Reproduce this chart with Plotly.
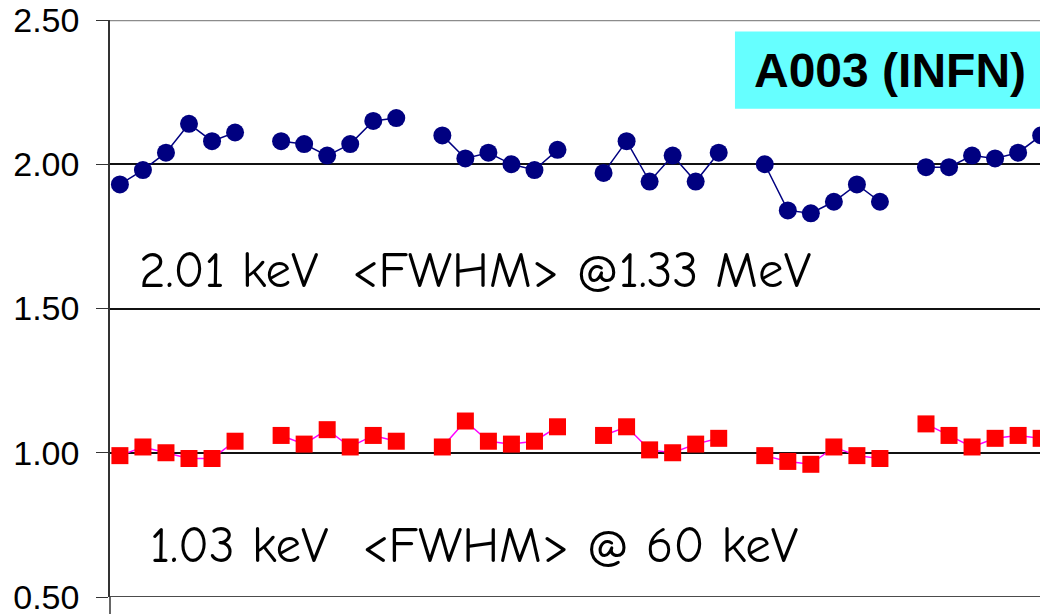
import plotly.graph_objects as go

# Six groups of six measurements, a one-slot gap between groups
per_group = 6

fwhm_133MeV = [
    [1.93, 1.98, 2.04, 2.14, 2.08, 2.11],
    [2.08, 2.07, 2.03, 2.07, 2.15, 2.16],
    [2.10, 2.02, 2.04, 2.00, 1.98, 2.05],
    [1.97, 2.08, 1.94, 2.03, 1.94, 2.04],
    [2.00, 1.84, 1.83, 1.87, 1.93, 1.87],
    [1.99, 1.99, 2.03, 2.02, 2.04, 2.10],
]
fwhm_60keV = [
    [0.99, 1.02, 1.00, 0.98, 0.98, 1.04],
    [1.06, 1.03, 1.08, 1.02, 1.06, 1.04],
    [1.02, 1.11, 1.04, 1.03, 1.04, 1.09],
    [1.06, 1.09, 1.01, 1.00, 1.03, 1.05],
    [0.99, 0.97, 0.96, 1.02, 0.99, 0.98],
    [1.10, 1.06, 1.02, 1.05, 1.06, 1.05],
]
y_ticks = [0.5, 1.0, 1.5, 2.0, 2.5]
y_tick_labels = ["0.50", "1.00", "1.50", "2.00", "2.50"]


def flatten(groups_vals):
    xs, ys = [], []
    for g, vals in enumerate(groups_vals):
        for k, v in enumerate(vals):
            xs.append(g * (per_group + 1) + k)
            ys.append(v)
        xs.append(g * (per_group + 1) + per_group)
        ys.append(None)
    return xs, ys


xb, yb = flatten(fwhm_133MeV)
xr, yr = flatten(fwhm_60keV)

fig = go.Figure()
fig.add_trace(go.Scatter(
    x=xb, y=yb, mode="lines+markers", connectgaps=False,
    line=dict(color="#000080", width=1.5),
    marker=dict(symbol="circle", size=18, color="#000080"),
    showlegend=False,
))
fig.add_trace(go.Scatter(
    x=xr, y=yr, mode="lines+markers", connectgaps=False,
    line=dict(color="#FF00FF", width=1.5),
    marker=dict(symbol="square", size=17, color="#FF0000"),
    showlegend=False,
))

comic = "Comic Sans MS, Comic Neue, Noto Sans, sans-serif"

fig.update_layout(
    width=1040, height=614,
    margin=dict(l=110, r=0, t=20, b=17, autoexpand=False),
    paper_bgcolor="white", plot_bgcolor="white",
    font=dict(family="Arial, Liberation Sans, sans-serif", color="black"),
    xaxis=dict(range=[-0.43, 39.95], showgrid=False, zeroline=False,
               showticklabels=False, ticks="", showline=False, automargin=False),
    yaxis=dict(range=[0.5, 2.5], tickvals=y_ticks, ticktext=y_tick_labels,
               showgrid=True, gridcolor="#111111", gridwidth=1.5,
               zeroline=False, showline=True, linecolor="#333333", linewidth=1.5,
               ticks="outside", ticklen=12, tickcolor="#333333", tickwidth=1.3,
               tickfont=dict(size=34, family="Arial, Liberation Sans, sans-serif"),
               ticklabelstandoff=10, ticklabeloverflow="allow", automargin=False),
    shapes=[
        dict(type="line", xref="paper", yref="y", x0=0, x1=1, y0=2.5, y1=2.5,
             line=dict(color="#8c8c8c", width=2.5)),
        dict(type="line", xref="paper", yref="y", x0=0, x1=1, y0=0.5, y1=0.5,
             line=dict(color="#111111", width=1.5)),
        dict(type="line", xref="paper", yref="paper", x0=0, x1=0, y0=-0.05, y1=0,
             line=dict(color="#333333", width=1.5)),
        dict(type="rect", xref="paper", yref="paper", x0=0.672, x1=1.0,
             y0=0.846, y1=0.980, fillcolor="#66FFFF", line=dict(width=0),
             layer="below"),
    ],
    annotations=[
        dict(text="<b>A003 (INFN)</b>", xref="paper", yref="paper",
             x=0.839, y=0.913, xanchor="center", yanchor="middle", showarrow=False,
             font=dict(size=48, family="Arial, Liberation Sans, sans-serif", color="black")),
        dict(text="2.01 keV\u00a0 &lt;FWHM&gt; @1.33 MeV", xref="paper", yref="paper",
             x=0.029, y=0.565, xanchor="left", yanchor="middle", showarrow=False,
             font=dict(size=51, family=comic, color="black")),
        dict(text="1.03 keV\u00a0 &lt;FWHM&gt; @ 60 keV", xref="paper", yref="paper",
             x=0.041, y=0.090, xanchor="left", yanchor="middle", showarrow=False,
             font=dict(size=51, family=comic, color="black")),
    ],
)

fig.write_html("out.html", config={"displayModeBar": False},
               post_script="document.body.style.margin='0';document.body.style.overflow='hidden';")
